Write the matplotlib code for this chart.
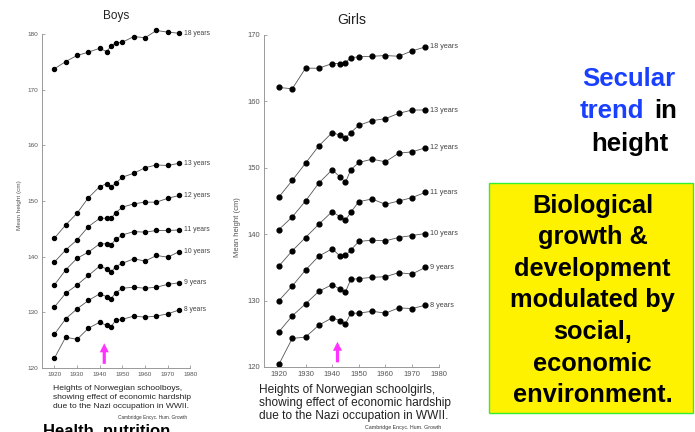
import numpy as np
from matplotlib import pyplot
from matplotlib.patches import Rectangle

pyplot.rcParams['font.family'] = ['Liberation Sans', 'DejaVu Sans']

# survey years (same for both sexes)
years = [1920, 1925, 1930, 1935, 1940, 1943, 1945, 1947, 1950, 1955, 1960, 1965, 1970, 1975]
age_labels = ['18 years', '13 years', '12 years', '11 years', '10 years', '9 years', '8 years']

# mean height (cm), boys
boys_18 = [173.8, 175.1, 176.2, 176.8, 177.5, 176.9, 177.9, 178.5, 178.6, 179.6, 179.4, 180.7, 180.4, 180.2]
boys_13 = [143.3, 145.7, 147.8, 150.6, 152.6, 153.1, 152.6, 153.2, 154.3, 155.0, 156.0, 156.5, 156.4, 156.8]
boys_12 = [139.0, 141.2, 143.0, 145.4, 146.9, 146.9, 146.9, 147.9, 148.9, 149.5, 149.8, 149.8, 150.5, 151.0]
boys_11 = [134.9, 137.6, 139.7, 140.8, 142.3, 142.3, 142.1, 143.1, 143.9, 144.5, 144.4, 144.7, 144.7, 144.8]
boys_10 = [130.9, 133.4, 134.9, 136.6, 138.3, 137.8, 137.2, 138.2, 138.8, 139.6, 139.2, 140.2, 139.9, 140.9]
boys_9 = [126.0, 128.8, 130.6, 132.1, 133.3, 132.8, 132.4, 133.5, 134.3, 134.5, 134.3, 134.5, 135.0, 135.3]
boys_8 = [121.7, 125.5, 125.1, 127.1, 128.2, 127.6, 127.4, 128.5, 128.7, 129.3, 129.1, 129.3, 129.7, 130.4]

# mean height (cm), girls
girls_18 = [162.1, 161.9, 165.0, 165.0, 165.7, 165.7, 165.8, 166.6, 166.7, 166.8, 166.9, 166.8, 167.6, 168.2]
girls_13 = [145.6, 148.1, 150.7, 153.3, 155.3, 154.9, 154.5, 155.3, 156.4, 157.1, 157.4, 158.2, 158.7, 158.7]
girls_12 = [140.7, 142.6, 145.0, 147.7, 149.7, 148.6, 147.8, 149.7, 150.8, 151.3, 150.9, 152.2, 152.4, 153.0]
girls_11 = [135.2, 137.5, 139.5, 141.5, 143.4, 142.6, 142.1, 143.3, 144.9, 145.3, 144.5, 145.0, 145.5, 146.3]
girls_10 = [130.0, 132.2, 134.6, 136.7, 137.8, 136.7, 136.8, 137.6, 138.9, 139.1, 139.0, 139.5, 139.8, 140.1]
girls_9 = [125.3, 127.7, 129.5, 131.4, 132.4, 131.7, 131.3, 133.2, 133.3, 133.5, 133.6, 134.2, 134.0, 135.0]
girls_8 = [120.4, 124.3, 124.5, 126.3, 127.4, 127.0, 126.5, 128.1, 128.1, 128.4, 128.1, 128.9, 128.8, 129.3]

boys = [boys_18, boys_13, boys_12, boys_11, boys_10, boys_9, boys_8]
girls = [girls_18, girls_13, girls_12, girls_11, girls_10, girls_9, girls_8]

occupation_year = 1942
xticks = [1920, 1930, 1940, 1950, 1960, 1970, 1980]


def growth_panel(ax, series, title, ytop, scale, label_size, title_pad):
    for values, label in zip(series, age_labels):
        ax.plot(years, values, color='#555555', lw=0.6, marker='o',
                ms=2.9 * scale, mfc='black', mec='black', clip_on=False)
        ax.annotate(label, (years[-1], values[-1]), xytext=(3.5, 0),
                    textcoords='offset points', va='center', ha='left',
                    fontsize=label_size, color='#444444', annotation_clip=False)

    ax.set_ylim(120, ytop)
    ax.set_yticks(range(120, 171 if ytop <= 170 else 181, 10))
    ax.set_xticks(xticks)
    for side in ('top', 'right'):
        ax.spines[side].set_visible(False)
    for side in ('left', 'bottom'):
        ax.spines[side].set_color('#999999')
        ax.spines[side].set_linewidth(0.7)
    ax.spines['left'].set_bounds(120, 180 if ytop > 170 else 170)
    ax.tick_params(direction='in', length=2.5, width=0.6, color='#999999',
                   labelsize=4.6 * scale, labelcolor='#555555', pad=3)
    ax.set_ylabel('Mean height (cm)', fontsize=4.6 * scale, color='#555555')
    ax.set_title(title, fontsize=8.5 * scale, color='#222222', pad=title_pad)
    ax.set_facecolor('none')

    ax.annotate('', xy=(occupation_year, 124.4 if scale < 1.1 else 123.8),
                xytext=(occupation_year, 120.7),
                arrowprops=dict(facecolor='#ff33ff', edgecolor='none',
                                width=2.3, headwidth=6.5, headlength=6.5))


fig = pyplot.figure(figsize=(6.95, 4.32), dpi=100)

ax_boys = fig.add_axes([0.0609, 0.1488, 0.2132, 0.7845])
ax_boys.set_xlim(1914.7, 1980)
growth_panel(ax_boys, boys, 'Boys', 181, 1.0, 4.9, 7.0)
ax_boys.yaxis.set_label_coords(-0.14, 0.48)

ax_girls = fig.add_axes([0.3799, 0.1505, 0.2512, 0.7685])
ax_girls.set_xlim(1914.4, 1980)
growth_panel(ax_girls, girls, 'Girls', 170, 1.19, 5.2, 8.0)
ax_girls.yaxis.set_label_coords(-0.13, 0.42)

# captions under the charts
fig.text(53 / 695, 1 - 384.5 / 432,
         'Heights of Norwegian schoolboys,\nshowing effect of economic hardship\ndue to the Nazi occupation in WWII.',
         fontsize=6.1, color='#222222', ha='left', va='top', linespacing=1.5)
fig.text(187 / 695, 1 - 417 / 432, 'Cambridge Encyc. Hum. Growth',
         fontsize=3.4, color='#333333', ha='right', va='center')
fig.text(259 / 695, 1 - 384.5 / 432,
         'Heights of Norwegian schoolgirls,\nshowing effect of economic hardship\ndue to the Nazi occupation in WWII.',
         fontsize=8.6, color='#222222', ha='left', va='top', linespacing=1.08)
fig.text(441 / 695, 1 - 427.5 / 432, 'Cambridge Encyc. Hum. Growth',
         fontsize=3.8, color='#333333', ha='right', va='center')
fig.text(43 / 695, 1 - 424 / 432, 'Health, nutrition', fontsize=12,
         fontweight='bold', color='black', ha='left', va='top')

# slide text on the right
blue = '#1a40ff'
fig.text(629 / 695, 1 - 86 / 432, 'Secular', fontsize=18.5, fontweight='bold',
         color=blue, ha='center', va='baseline')
fig.text(580 / 695, 1 - 118.3 / 432, 'trend', fontsize=18.5, fontweight='bold',
         color=blue, ha='left', va='baseline')
fig.text(677.3 / 695, 1 - 118.3 / 432, 'in', fontsize=18.5, fontweight='bold',
         color='black', ha='right', va='baseline')
fig.text(630 / 695, 1 - 151 / 432, 'height', fontsize=18.5, fontweight='bold',
         color='black', ha='center', va='baseline')

fig.patches.append(Rectangle((489.3 / 695, 1 - 413.3 / 432), 204 / 695, 230 / 432,
                             transform=fig.transFigure, facecolor='#fff200',
                             edgecolor='#33ee33', lw=1.0))
fig.text(592.5 / 695, 1 - 300.5 / 432,
         'Biological\ngrowth &\ndevelopment\nmodulated by\nsocial,\neconomic\nenvironment.',
         fontsize=18.3, fontweight='bold', color='black', ha='center',
         va='center', linespacing=1.4)

fig.savefig('out.png', dpi=100)
